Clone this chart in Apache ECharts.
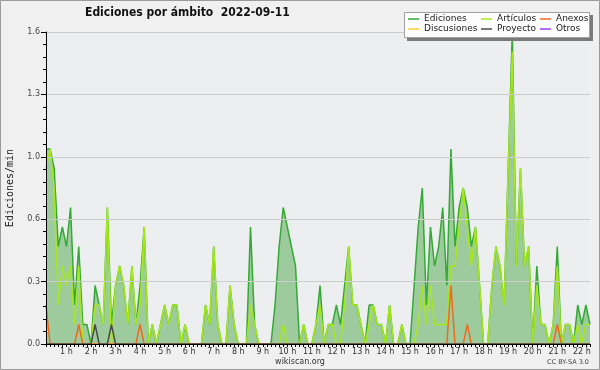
<!DOCTYPE html>
<html>
<head>
<meta charset="utf-8">
<script src="https://cdn.jsdelivr.net/npm/echarts@6/dist/echarts.min.js"></script>
<style>
html,body{margin:0;padding:0;background:#f0f0f0;}
#chart{width:600px;height:370px;}
</style>
</head>
<body>
<div id="chart"></div>
<script>
// 10-minute bins from 00:10 to 22:20
var times = [];
for (var m = 10; m <= 1340; m += 10) {
  var hh = Math.floor(m / 60), mm = m % 60;
  times.push((hh < 10 ? '0' : '') + hh + ':' + (mm < 10 ? '0' : '') + mm);
}
var hourLabels = ['1 h','2 h','3 h','4 h','5 h','6 h','7 h','8 h','9 h','10 h','11 h','12 h','13 h','14 h','15 h','16 h','17 h','18 h','19 h','20 h','21 h','22 h'];

var ediciones = [
  1.0,1.0,0.9,0.5,0.6,0.5,0.7,0.2,0.5,0.1,
  0.1,0,0.3,0.2,0.1,0.7,0.1,0.3,0.4,0.3,
  0.1,0.4,0.1,0.3,0.6,0,0.1,0,0.1,0.2,
  0.1,0.2,0.2,0,0.1,0,0,0,0,0.2,
  0.1,0.5,0.1,0,0,0.3,0.1,0,0,0,
  0.6,0.1,0,0,0,0,0.2,0.5,0.7,0.6,
  0.5,0.4,0,0.1,0,0,0.1,0.3,0,0.1,
  0.1,0.2,0.1,0.3,0.5,0.2,0.2,0.1,0,
  0.2,0.2,0.1,0.1,0,0.2,0,0,0.1,0,
  0,0.3,0.6,0.8,0.2,0.6,0.4,0.5,0.7,0.3,
  1.0,0.5,0.7,0.8,0.7,0.5,0.6,0.3,0,0,
  0.3,0.5,0.4,0.2,0.9,1.6,0.4,0.9,0.4,0.5,
  0,0.4,0.1,0.1,0,0.1,0.5,0,0.1,0.1,
  0,0.2,0.1,0.2,0.1
];
var articulos = [
  0.9,1.0,0.8,0.2,0.4,0.3,0.4,0.1,0.4,0,
  0,0,0.2,0.2,0.1,0.7,0,0.3,0.4,0.3,
  0.1,0.4,0.1,0.2,0.6,0,0.1,0,0.1,0.2,
  0.1,0.2,0.2,0,0.1,0,0,0,0,0.2,
  0.1,0.5,0.1,0,0,0.3,0.1,0,0,0,
  0.2,0.1,0,0,0,0,0,0,0.1,0,
  0,0,0,0.1,0,0,0.1,0.2,0,0.1,
  0.1,0,0,0.2,0.5,0.2,0.2,0.1,0,
  0.1,0.2,0.1,0.1,0,0.2,0,0,0.1,0,
  0,0,0.1,0.3,0.1,0.3,0.1,0.1,0.1,0.1,
  0.4,0.4,0.6,0.8,0.6,0.4,0.6,0.3,0,0,
  0.3,0.5,0.4,0.2,0.9,1.5,0.4,0.9,0.4,0.5,
  0,0.3,0.1,0.1,0,0.1,0.4,0,0.1,0.1,
  0,0.1,0,0.1,0.1
];
var anexos = [
  0.2,0,0,0,0,0,0,0,0.1,0,
  0,0,0,0,0,0,0,0,0,0,
  0,0,0,0.1,0,0,0,0,0,0,
  0,0,0,0,0,0,0,0,0,0,
  0,0,0,0,0,0,0,0,0,0,
  0,0,0,0,0,0,0,0,0,0,
  0,0,0,0,0,0,0,0,0,0,
  0,0,0,0,0,0,0,0,0,
  0,0,0,0,0,0,0,0,0,0,
  0,0,0,0,0,0,0,0,0,0,
  0.3,0,0,0,0.1,0,0,0,0,0,
  0,0,0,0,0,0,0,0,0,0,
  0,0,0,0,0,0,0.1,0,0,0,
  0,0,0,0,0
];
var proyecto = [
  0,0,0,0,0,0,0,0,0,0,
  0,0,0.1,0,0,0,0.1,0,0,0,
  0,0,0,0,0,0,0,0,0,0,
  0,0,0,0,0,0,0,0,0,0,
  0,0,0,0,0,0,0,0,0,0,
  0,0,0,0,0,0,0,0,0,0,
  0,0,0,0,0,0,0,0,0,0,
  0,0,0,0,0,0,0,0,0,
  0,0,0,0,0,0,0,0,0,0,
  0,0,0,0,0,0,0,0,0,0,
  0,0,0,0,0,0,0,0,0,0,
  0,0,0,0,0,0,0,0,0,0,
  0,0,0,0,0,0,0,0,0,0,
  0,0,0,0,0
];
var discusiones = [];
var otros = [];

var colors = {
  'Ediciones': '#35a935',
  'Artículos': '#a6e81c',
  'Anexos': '#ee6a1e',
  'Discusiones': '#ffcc33',
  'Proyecto': '#4a4a4a',
  'Otros': '#9b3cf0'
};

function lineSeries(name, data, extra) {
  var s = {
    name: name, type: 'line', data: data, showSymbol: false, symbol: 'none',
    lineStyle: {color: colors[name], width: 1.5},
    itemStyle: {color: colors[name]},
    z: 2
  };
  for (var k in extra) s[k] = extra[k];
  return s;
}

var legendText = {fontSize: 9, fontFamily: 'DejaVu Sans', color: '#222', lineHeight: 10};
function legendCol(left, names) {
  return {
    orient: 'vertical', left: left, top: 14, itemGap: 0, itemWidth: 11, itemHeight: 1.5,
    icon: 'rect', textStyle: legendText, data: names, selectedMode: false, z: 110, padding: 0
  };
}

var chart = echarts.init(document.getElementById('chart'), null, {renderer: 'canvas'});
chart.setOption({
  animation: false,
  backgroundColor: '#f0f0f0',
  title: {
    text: 'Ediciones por ámbito  2022-09-11', left: 85, top: 7, padding: 0,
    textStyle: {fontSize: 12, fontWeight: 'bold', fontFamily: '"DejaVu Sans Condensed", "DejaVu Sans"', color: '#111'}
  },
  legend: [
    legendCol(408, ['Ediciones', 'Discusiones']),
    legendCol(481, ['Artículos', 'Proyecto']),
    legendCol(540, ['Anexos', 'Otros'])
  ],
  grid: {left: 46, right: 10, top: 32, bottom: 26, show: true, backgroundColor: '#edeef0', borderWidth: 0,
         containLabel: false, outerBoundsMode: 'none'},
  xAxis: {
    type: 'category', data: times, boundaryGap: false, z: 5,
    axisLine: {lineStyle: {color: '#000', width: 1}},
    axisTick: {show: true, interval: 0, length: 3, lineStyle: {color: '#000'}},
    axisLabel: {
      interval: function (idx) { return (idx + 1) % 6 === 0; },
      formatter: function (val, idx) { return hourLabels[(idx + 1) / 6 - 1]; },
      fontSize: 8, fontFamily: 'DejaVu Sans', color: '#333', margin: 4
    },
    splitLine: {show: false}
  },
  yAxis: {
    type: 'value', min: 0, max: 1.6, interval: 0.32, z: 5,
    name: 'Ediciones/min', nameLocation: 'middle', nameGap: 31, nameRotate: 90,
    nameTextStyle: {fontSize: 10, fontFamily: 'DejaVu Sans Mono', color: '#222'},
    axisLine: {show: true, lineStyle: {color: '#000', width: 1}},
    axisTick: {show: true, length: 5, lineStyle: {color: '#000'}},
    minorTick: {show: true, splitNumber: 5, length: 3, lineStyle: {color: '#000'}},
    axisLabel: {
      formatter: function (v) { return v.toFixed(1); },
      fontSize: 8, fontFamily: 'DejaVu Sans', color: '#444', margin: 6
    },
    splitLine: {show: true, lineStyle: {color: '#cccccc', width: 1}}
  },
  graphic: [
    {type: 'rect', z: 100, shape: {x: 407, y: 15, width: 186, height: 26}, style: {fill: '#7a7a7a'}},
    {type: 'rect', z: 101, shape: {x: 404.5, y: 12.5, width: 185, height: 25}, style: {fill: '#fdfdfd', stroke: '#a0a0a0', lineWidth: 1}},
    {type: 'text', z: 100, style: {text: 'wikiscan.org', x: 300, y: 362, align: 'center', verticalAlign: 'middle', fontSize: 8, fontFamily: 'DejaVu Sans', fill: '#333'}},
    {type: 'text', z: 100, style: {text: 'CC BY-SA 3.0', x: 589, y: 362.5, align: 'right', verticalAlign: 'middle', fontSize: 6.5, fontFamily: 'DejaVu Sans', fill: '#444'}},
    {type: 'rect', z: 100, shape: {x: 0.5, y: 0.5, width: 599, height: 369}, style: {fill: 'none', stroke: '#9a9a9a', lineWidth: 1}}
  ],
  series: [
    lineSeries('Ediciones', ediciones, {areaStyle: {color: '#9ecb9e', opacity: 1}}),
    lineSeries('Artículos', articulos, {}),
    lineSeries('Anexos', anexos, {}),
    lineSeries('Discusiones', discusiones, {}),
    lineSeries('Proyecto', proyecto, {}),
    lineSeries('Otros', otros, {})
  ]
});
</script>
</body>
</html>
